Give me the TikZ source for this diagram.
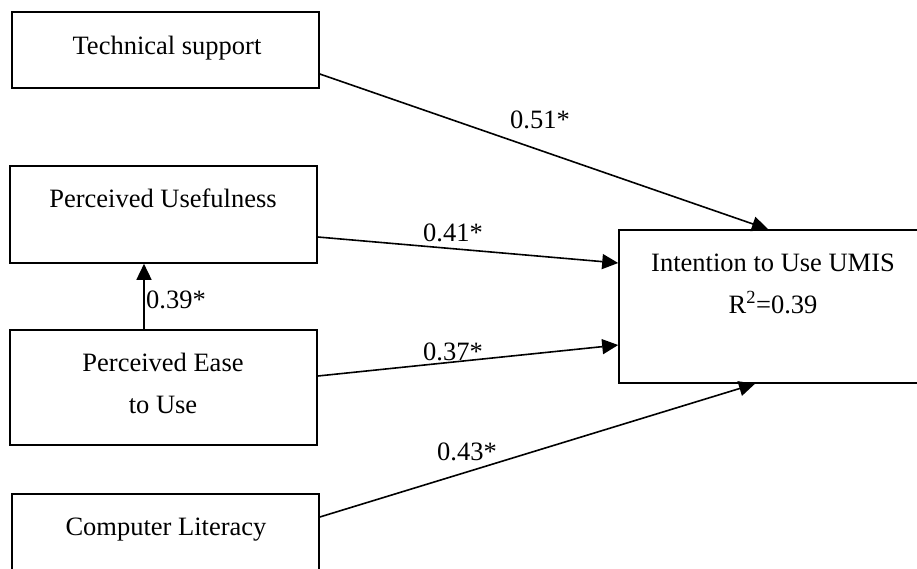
\documentclass[tikz,border=0pt]{standalone}
\usepackage{fontspec}
\setmainfont{Liberation Serif}
\usetikzlibrary{arrows.meta}

\tikzset{
  caja/.style={draw, line width=1.6pt, minimum width=307pt, inner sep=0pt},
  texto/.style={anchor=base, align=center, inner sep=0pt,
    font=\fontsize{26.5}{42}\selectfont},
  flecha/.style={line width=1.6pt, -{Triangle[length=16pt,width=15pt]}},
}

\begin{document}
\begin{tikzpicture}[x=1pt,y=-1pt]
        % Recorta el lienzo al tamano de la figura.
        \clip (0,0) rectangle (917,568);

        % Dibuja las cajas de los constructos.
        \node[caja, minimum height=76pt] (ts) at (165.5,50) {};
        \node[caja, minimum height=97pt] (pu) at (163.5,214.5) {};
        \node[caja, minimum height=115pt] (peou) at (163.5,387.5) {};
        \node[caja, minimum height=106pt] (cl) at (165.5,547) {};
        \node[caja, minimum width=321pt, minimum height=153pt] (ic) at (779.5,306.5) {};

        % Escribe los nombres dentro de las cajas (la base es la ultima linea).
        \node[texto] (tsT) at (167,54) {Technical support};
        \node[texto] (puT) at (163,207) {Perceived Usefulness};
        \node[texto] (peouT) at (163,413) {Perceived Ease\\to Use};
        \node[texto] (clT) at (166,535) {Computer Literacy};
        \node[texto] (icT) at (773,313) {Intention to Use UMIS\\R\textsuperscript{2}=0.39};

        % Dibuja las flechas entre constructos.
        \draw[flecha] ([yshift=-24pt]ts.east) -- ([xshift=-11.5pt]ic.north);
        \draw[flecha] ([yshift=-22.5pt]pu.east) -- ([yshift=43.5pt]ic.west);
        \draw[flecha] ([yshift=11.5pt]peou.east) -- ([yshift=-38.5pt]ic.west);
        \draw[flecha] ([yshift=30pt]cl.east) -- ([xshift=-24.5pt]ic.south);
        \draw[flecha] ([xshift=-19.5pt]peou.north) -- ([xshift=-19.5pt]pu.south);

        % Etiqueta los coeficientes.
        \node[texto] (c51) at (540,128) {0.51*};
        \node[texto] (c41) at (453,241) {0.41*};
        \node[texto] (c37) at (453,360) {0.37*};
        \node[texto] (c43) at (467,460) {0.43*};
        \node[texto] (c39) at (176,308) {0.39*};
    \end{tikzpicture}
\end{document}
